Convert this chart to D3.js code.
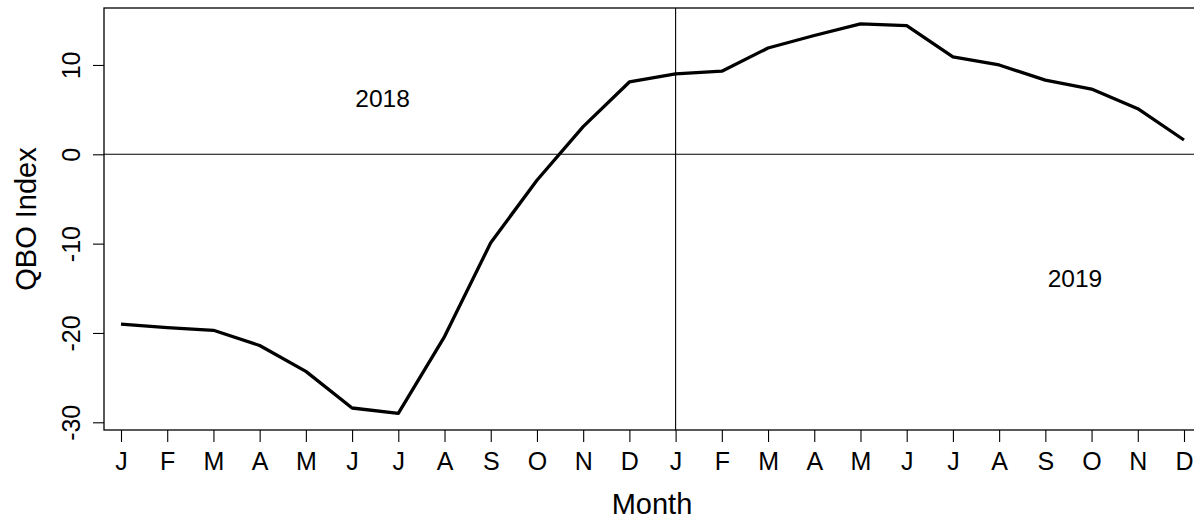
<!DOCTYPE html>
<html>
<head>
<meta charset="utf-8">
<script src="https://cdn.jsdelivr.net/npm/d3@7"></script>
<style>
body { margin:0; background:#fff; }
text { font-family: "Liberation Sans", Arial, sans-serif; fill:#000; }
</style>
</head>
<body>
<svg width="1194" height="519"></svg>
<script>
// month initials, two years
const months = ["J","F","M","A","M","J","J","A","S","O","N","D",
                "J","F","M","A","M","J","J","A","S","O","N","D"]
// QBO index (2018 then 2019)
const qbo = [-19.0,-19.4,-19.7,-21.4,-24.3,-28.4,-29.0,-20.4,-9.9,-2.9,3.1,8.1,
             9.0,9.3,11.9,13.3,14.6,14.4,10.9,10.0,8.3,7.3,5.1,1.6]
const yTicks = [-30,-20,-10,0,10]
const years = [{label:"2018", i:5.66, v:5.3}, {label:"2019", i:20.64, v:-14.8}]

const svg = d3.select("svg")

const x = d3.scaleLinear().domain([0,23]).range([121,1184])
const y = d3.scaleLinear().domain([0,-30]).range([154.3,422.3])

const boxL = 104, boxT = 8, boxB = 430, boxR = 1200

//box
svg.append("rect")
	.attr("x", boxL).attr("y", boxT)
	.attr("width", boxR-boxL).attr("height", boxB-boxT)
	.attr("fill","none").attr("stroke","#000").attr("stroke-width",1.3)

//zero line and year split
svg.append("line")
	.attr("x1", boxL).attr("x2", boxR)
	.attr("y1", y(0)).attr("y2", y(0))
	.attr("stroke","#000").attr("stroke-width",1.1)

svg.append("line")
	.attr("x1", x(12)).attr("x2", x(12))
	.attr("y1", boxT).attr("y2", boxB)
	.attr("stroke","#000").attr("stroke-width",1.1)

//x axis
const xAxis = d3.axisBottom(x)
	.tickValues(d3.range(months.length))
	.tickFormat((d,i)=>months[i])
	.tickSize(12).tickPadding(10)

svg.append("g")
	.attr("transform", `translate(0,${boxB})`)
	.call(xAxis)
	.call(g=>g.select(".domain").remove())
	.call(g=>g.selectAll("line").attr("stroke","#000").attr("stroke-width",1.1))
	.call(g=>g.selectAll("text").style("font-size","25px").attr("font-family","Liberation Sans, Arial, sans-serif"))

//y axis
const yAxis = d3.axisLeft(y).tickValues(yTicks).tickSize(11).tickFormat(d=>String(d))
const yg = svg.append("g")
	.attr("transform", `translate(${boxL},0)`)
	.call(yAxis)
	.call(g=>g.select(".domain").remove())
	.call(g=>g.selectAll("line").attr("stroke","#000").attr("stroke-width",1.1))

yg.selectAll("text")
	.attr("x", null).attr("dy", null)
	.attr("transform", "translate(-24,0) rotate(-90)")
	.style("text-anchor","middle")
	.style("font-size","25px")
	.attr("font-family","Liberation Sans, Arial, sans-serif")

//data line
const line = d3.line()
	.x((d,i)=>x(i))
	.y(d=>y(d))

svg.append("path")
	.datum(qbo)
	.attr("d", line)
	.attr("fill","none")
	.attr("stroke","#000")
	.attr("stroke-width",3.3)
	.attr("stroke-linejoin","round")

//year labels
svg.selectAll("text.year")
	.data(years)
	.enter()
	.append("text")
	.attr("class","year")
	.attr("x", d=>x(d.i))
	.attr("y", d=>y(d.v))
	.attr("text-anchor","middle")
	.style("font-size","24.5px")
	.text(d=>d.label)

//axis titles
svg.append("text")
	.attr("x", 652).attr("y", 514)
	.attr("text-anchor","middle")
	.style("font-size","29px")
	.text("Month")

svg.append("text")
	.attr("transform","translate(36,219) rotate(-90)")
	.attr("text-anchor","middle")
	.style("font-size","29px")
	.text("QBO Index")
</script>
</body>
</html>
